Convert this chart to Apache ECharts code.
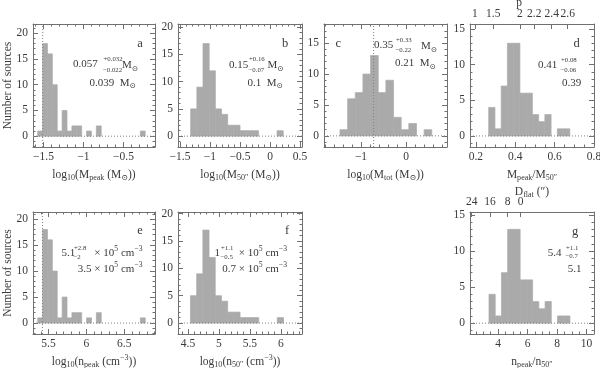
<!DOCTYPE html>
<html><head><meta charset="utf-8">
<script src="https://cdn.jsdelivr.net/npm/echarts@6/dist/echarts.min.js"></script>
<style>html,body{margin:0;padding:0;background:#fff}#c{width:600px;height:368px}</style>
</head><body><div id="c"></div>
<script>
// ---------------- data ----------------
const aCounts = [1,18,16,10,1,5,1,2,2,0,1,0,2,0,0,0,0,0,0,0,0,1];
const aBinStart = -1.5725, aBinWidth = 0.0611;
const bCounts = [5,9,17,12,5,4,2,2,1,1,1,0,0,0,1];
const bBinStart = -1.3217, bBinWidth = 0.1028;
const cCounts = [1,6,7,10,13,7,9,3,1,2,0,1];
const cBinStart = -1.467, cBinWidth = 0.170;
const dCounts = [4,1,7,13,13,6,6,3,2,3,0,1,1];
const dBinStart = 0.265, dBinWidth = 0.0317;
const eCounts = [1,18,16,10,1,5,1,2,2,0,1,0,2,0,0,0,0,0,0,0,0,1];
const eBinStart = 5.357, eBinWidth = 0.0646;
const fCounts = [5,9,17,12,5,4,2,2,1,1,1,0,0,0,1];
const fBinStart = 4.539, fBinWidth = 0.1002;
const gCounts = [4,1,7,13,13,6,6,3,2,3,0,1,1];
const gBinStart = 3.387, gBinWidth = 0.422;

const aMarker = -1.51, cMarker = -0.72, eMarker = 5.42;

const aXTicks = [-1.5,-1,-0.5];
const bXTicks = [-1.5,-1,-0.5,0,0.5];
const cXTicks = [-1,0];
const dXTicks = [0.2,0.4,0.6,0.8];
const eXTicks = [5.5,6,6.5];
const fXTicks = [4.5,5,5.5,6];
const gXTicks = [4,6,8,10];
const yTicks20 = [0,5,10,15,20];
const yTicks15 = [0,5,10,15];
const dTopLabels = ['1','1.5','2','2.2','2.4','2.6'];
const dTopPos = [0.1954,0.2884,0.4240,0.4967,0.5851,0.6664];
const gTopLabels = ['24','16','8','0'];
const gTopPos = [2.215,3.455,4.654,5.534];

// ---------------- styling ----------------
const FONT = '"Liberation Serif","DejaVu Serif",serif';
const TXT = '#3a3a3a';
const FRAME = '#707070';
const BAR = '#aaaaaa';
const DOT = '#808080';
const FS = 11.5;

function richC(size){
  return {
    n:{fontSize:size,lineHeight:15,fontFamily:FONT,color:TXT},
    sb:{fontSize:size*0.7,lineHeight:6,verticalAlign:'bottom',fontFamily:FONT,color:TXT},
    sp:{fontSize:size*0.7,lineHeight:6,verticalAlign:'top',fontFamily:FONT,color:TXT}
  };
}
function richG(size){
  return {
    n:{fontSize:size,lineHeight:15,fontFamily:FONT,fill:TXT},
    sb:{fontSize:size*0.7,lineHeight:6,verticalAlign:'bottom',fontFamily:FONT,fill:TXT},
    sp:{fontSize:size*0.7,lineHeight:6,verticalAlign:'top',fontFamily:FONT,fill:TXT}
  };
}

const panels = [
  {box:[33,24,122,123], x:[-1.631,-0.106], xStep:0.1, y:[-2.1,21.8], xMaj:aXTicks, yMaj:yTicks20, counts:aCounts, start:aBinStart, w:aBinWidth, marker:aMarker, yName:true,
   xName:'{n|log}{sb|10}{n|(M}{sb|peak}{n| (M}{sb|⊙}{n|))}'},
  {box:[178,24,124,123], x:[-1.533,0.533], xStep:0.1, y:[-2,20.6], xMaj:bXTicks, yMaj:yTicks20, counts:bCounts, start:bBinStart, w:bBinWidth,
   xName:'{n|log}{sb|10}{n|(M}{sb|50″}{n| (M}{sb|⊙}{n|))}'},
  {box:[324,24,123,123], x:[-1.822,0.911], xStep:0.2, y:[-1.8,18.1], xMaj:cXTicks, yMaj:yTicks15, counts:cCounts, start:cBinStart, w:cBinWidth, marker:cMarker,
   xName:'{n|log}{sb|10}{n|(M}{sb|tot}{n| (M}{sb|⊙}{n|))}'},
  {box:[470,24,124,123], x:[0.17,0.8], xStep:0.05, y:[-1.55,15.7], xMaj:dXTicks, yMaj:yTicks15, counts:dCounts, start:dBinStart, w:dBinWidth,
   xName:'{n|M}{sb|peak}{n|/M}{sb|50″}', top:{pos:dTopPos, labels:dTopLabels, name:'{n|p}', pad:[0,26,0,0], gap:14}},
  {box:[33,212,122,122], x:[5.295,6.907], xStep:0.1, y:[-2.1,21.35], xMaj:eXTicks, yMaj:yTicks20, counts:eCounts, start:eBinStart, w:eBinWidth, marker:eMarker, yName:true,
   xName:'{n|log}{sb|10}{n|(n}{sb|peak}{n| (cm}{sp|−3}{n|))}'},
  {box:[178,212,124,122], x:[4.338,6.341], xStep:0.1, y:[-2,20.3], xMaj:fXTicks, yMaj:yTicks20, counts:fCounts, start:fBinStart, w:fBinWidth,
   xName:'{n|log}{sb|10}{n|(n}{sb|50″}{n| (cm}{sp|−3}{n|))}'},
  {box:[470,212,124,122], x:[2.1,10.5], xStep:0.5, y:[-1.5,15.4], xMaj:gXTicks, yMaj:yTicks15, counts:gCounts, start:gBinStart, w:gBinWidth,
   xName:'{n|n}{sb|peak}{n|/n}{sb|50″}', top:{pos:gTopPos, labels:gTopLabels, name:'{n|D}{sb|flat}{n| (″)}', pad:[0,0,0,0], gap:13}}
];

function minorVals(lo, hi, step){
  const out=[]; const s=Math.ceil(lo/step-1e-9);
  for(let k=s; k*step<=hi+1e-9; k++) out.push(+(k*step).toFixed(6));
  return out;
}
const fmt = v => String(+(+v).toFixed(4)).replace('-', '−');
const ls = () => ({color:FRAME,width:1});
const TL = 5, TLm = 2.5;

const grids=[], xAxes=[], yAxes=[], series=[];
panels.forEach((p, gi) => {
  grids.push({left:p.box[0], top:p.box[1], width:p.box[2], height:p.box[3], containLabel:false, outerBoundsMode:'none'});
  const base = {gridIndex:gi, type:'value', splitLine:{show:false}, splitArea:{show:false}, minorTick:{show:false}, minorSplitLine:{show:false}, silent:true, nameMoveOverlap:false};
  const xr = {min:p.x[0], max:p.x[1]}, yr = {min:p.y[0], max:p.y[1]};
  const xi = xAxes.length, yi = yAxes.length;
  xAxes.push(Object.assign({}, base, xr, {
    position:'bottom', axisLine:{show:true,onZero:false,lineStyle:ls()},
    axisTick:{show:true,inside:true,length:TL,customValues:p.xMaj,lineStyle:ls()},
    axisLabel:{show:true,customValues:p.xMaj,formatter:fmt,margin:4,color:TXT,fontSize:FS,fontFamily:FONT},
    name:p.xName, nameLocation:'middle', nameGap:20, nameTextStyle:{rich:richC(FS)}
  }));
  xAxes.push(Object.assign({}, base, xr, {
    position:'bottom', axisLine:{show:false,onZero:false},
    axisTick:{show:true,inside:true,length:TLm,customValues:minorVals(p.x[0],p.x[1],p.xStep),lineStyle:ls()},
    axisLabel:{show:false}
  }));
  if (p.top) {
    const tp = p.top;
    xAxes.push(Object.assign({}, base, xr, {
      position:'top', axisLine:{show:true,onZero:false,lineStyle:ls()},
      axisTick:{show:true,inside:true,length:TL,customValues:tp.pos,lineStyle:ls()},
      axisLabel:{show:true,customValues:tp.pos,margin:4,color:TXT,fontSize:FS,fontFamily:FONT,
        formatter:(v)=>{let bi=0,bd=1e9; tp.pos.forEach((q,i)=>{const d=Math.abs(q-v); if(d<bd){bd=d;bi=i;}}); return tp.labels[bi];}},
      name:tp.name, nameLocation:'middle', nameGap:tp.gap, nameTextStyle:{rich:richC(FS), padding:tp.pad}
    }));
  } else {
    xAxes.push(Object.assign({}, base, xr, {
      position:'top', axisLine:{show:true,onZero:false,lineStyle:ls()},
      axisTick:{show:true,inside:true,length:TL,customValues:p.xMaj,lineStyle:ls()},
      axisLabel:{show:false}
    }));
    xAxes.push(Object.assign({}, base, xr, {
      position:'top', axisLine:{show:false,onZero:false},
      axisTick:{show:true,inside:true,length:TLm,customValues:minorVals(p.x[0],p.x[1],p.xStep),lineStyle:ls()},
      axisLabel:{show:false}
    }));
  }
  yAxes.push(Object.assign({}, base, yr, {
    position:'left', axisLine:{show:true,onZero:false,lineStyle:ls()},
    axisTick:{show:true,inside:true,length:TL,customValues:p.yMaj,lineStyle:ls()},
    axisLabel:{show:true,customValues:p.yMaj,formatter:fmt,margin:5,color:TXT,fontSize:FS,fontFamily:FONT},
    name:p.yName ? 'Number of sources' : '', nameLocation:'middle', nameRotate:90, nameGap:19,
    nameTextStyle:{color:TXT,fontSize:FS,fontFamily:FONT}
  }));
  yAxes.push(Object.assign({}, base, yr, {
    position:'left', axisLine:{show:false,onZero:false},
    axisTick:{show:true,inside:true,length:TLm,customValues:minorVals(p.y[0],p.y[1],1),lineStyle:ls()},
    axisLabel:{show:false}
  }));
  yAxes.push(Object.assign({}, base, yr, {
    position:'right', axisLine:{show:true,onZero:false,lineStyle:ls()},
    axisTick:{show:true,inside:true,length:TL,customValues:p.yMaj,lineStyle:ls()},
    axisLabel:{show:false}
  }));
  yAxes.push(Object.assign({}, base, yr, {
    position:'right', axisLine:{show:false,onZero:false},
    axisTick:{show:true,inside:true,length:TLm,customValues:minorVals(p.y[0],p.y[1],1),lineStyle:ls()},
    axisLabel:{show:false}
  }));

  const data = p.counts.map((c,i)=>[p.start+i*p.w, p.start+(i+1)*p.w, c]);
  series.push({
    type:'custom', coordinateSystem:'cartesian2d', xAxisIndex:xi, yAxisIndex:yi, silent:true,
    encode:{x:[0,1], y:2}, data,
    renderItem:(params, api)=>{
      const c = api.value(2); if (!c) return null;
      const p0 = api.coord([api.value(0), c]);
      const p1 = api.coord([api.value(1), 0]);
      return {type:'rect', shape:{x:p0[0], y:p0[1], width:p1[0]-p0[0], height:p1[1]-p0[1]}, style:{fill:BAR, stroke:BAR, lineWidth:0.7}};
    }
  });
  series.push({type:'line', xAxisIndex:xi, yAxisIndex:yi, silent:true, symbol:'none', z:5,
    data:[[p.x[0],0],[p.x[1],0]], lineStyle:{type:[1,2], color:DOT, width:1}});
  if (p.marker !== undefined) {
    series.push({type:'line', xAxisIndex:xi, yAxisIndex:yi, silent:true, symbol:'none', z:5,
      data:[[p.marker,p.y[0]],[p.marker,p.y[1]]], lineStyle:{type:[1,2], color:DOT, width:1}});
  }
});

// ---------------- annotations ----------------
const AS = 11, ES = 6.8;
function T(x, y, text, size, align){
  return {type:'text', x, y, silent:true, z:10,
    style:{text, fill:TXT, fontSize:size||AS, fontFamily:FONT, align:align||'left', verticalAlign:'middle', rich:richG(size||AS)}};
}
const MS = '{n|M}{sb|⊙}';
const DENS = '{n|× 10}{sp|5}{n| cm}{sp|−3}';
const graphics = [
  T(140,43.5,'a',12.5,'center'), T(73,64.5,'0.057'), T(103.5,59.5,'+0.032',ES), T(103,70,'−0.022',ES),
  T(122,65,MS), T(136,82.7,'{n|0.039  M}{sb|⊙}',AS,'right'),
  T(285,43.5,'b',12.5,'center'), T(229,65,'0.15'), T(249,59.5,'+0.16',ES), T(248.5,70,'−0.07',ES),
  T(267.5,65,MS), T(283,82.7,'{n|0.1  M}{sb|⊙}',AS,'right'),
  T(338.3,44,'c',12.5,'center'), T(374,45.5,'0.35'), T(396,40.5,'+0.33',ES), T(395.5,50.5,'−0.22',ES),
  T(421,46,MS), T(436,63.3,'{n|0.21  M}{sb|⊙}',AS,'right'),
  T(576.7,43.5,'d',12.5,'center'), T(538,65,'0.41'), T(561,60,'+0.08',ES), T(560.5,70.5,'−0.06',ES),
  T(562,82.7,'0.39'),
  T(140,230.5,'e',12.5,'center'), T(61.5,252.7,'5.1'), T(74,248,'+2.8',ES), T(73.5,257,'−2',ES),
  T(142.5,252.7,DENS,AS,'right'), T(142.5,268.8,'{n|3.5 × 10}{sp|5}{n| cm}{sp|−3}',AS,'right'),
  T(287,230.5,'f',12.5,'center'), T(214.5,253,'1'), T(221,248,'+1.1',ES), T(220.5,257,'−0.5',ES),
  T(287,252.7,DENS,AS,'right'), T(287,268.8,'{n|0.7 × 10}{sp|5}{n| cm}{sp|−3}',AS,'right'),
  T(575,231.7,'g',12.5,'center'), T(547.7,252.7,'5.4'), T(566,248.3,'+1.1',ES), T(565.5,256.5,'−0.7',ES),
  T(567.7,268.8,'5.1')
];

const chart = echarts.init(document.getElementById('c'), null, {renderer:'canvas'});
chart.setOption({
  animation:false,
  backgroundColor:'#ffffff',
  grid:grids, xAxis:xAxes, yAxis:yAxes, series,
  graphic:{elements:graphics}
});
</script>
</body></html>
